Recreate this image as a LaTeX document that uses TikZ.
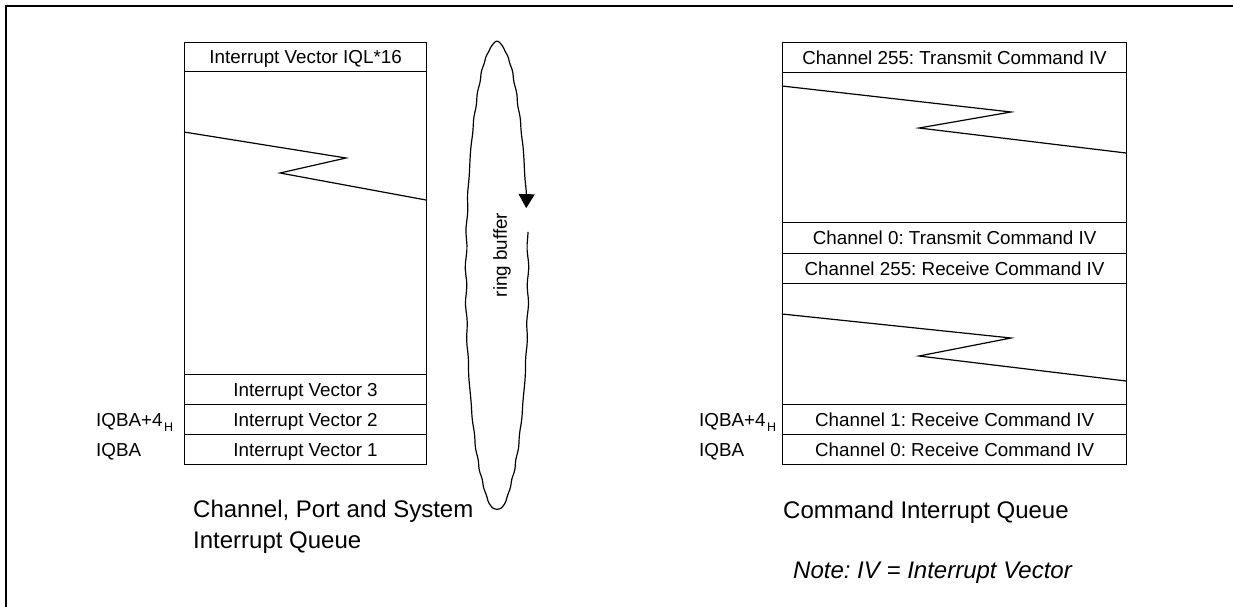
\documentclass[tikz,border=0pt]{standalone}
\usepackage{fontspec}
\setmainfont{Liberation Sans}
\usetikzlibrary{arrows.meta}
\newcommand{\boxfont}{\fontsize{18.8}{22}\selectfont}
\newcommand{\capfont}{\fontsize{24}{31}\selectfont}
\newcommand{\subH}{\hspace{1.5pt}\raisebox{-5pt}{\fontsize{12.5}{13}\selectfont H}}
\frenchspacing
\begin{document}
\begin{tikzpicture}[x=1pt,y=-1pt,
  lw/.style={line width=1.2pt},
  cell/.style={draw, lw, inner sep=0pt, text height=13.6pt, text depth=0pt, font=\boxfont, anchor=north west},
  lcell/.style={cell, minimum width=242pt},
  rcell/.style={cell, minimum width=344pt},
  addr/.style={font=\boxfont, anchor=base west, inner sep=0pt},
  caption/.style={font=\capfont, anchor=base west, inner sep=0pt, align=left},
]
\useasboundingbox (0,0) rectangle (1233,607);
% outer frame
\draw[lw] (6,607) -- (6,6) -- (1233,6);

% left queue
\node[lcell, minimum height=29pt] (lhead) at (184,42) {Interrupt Vector IQL*16};
\node[lcell, minimum height=303pt] (lblank) at (184,71) {};
\node[lcell, minimum height=30pt] (liv3) at (184,374) {Interrupt Vector 3};
\node[lcell, minimum height=30pt] (liv2) at (184,404) {Interrupt Vector 2};
\node[lcell, minimum height=30pt] (liv1) at (184,434) {Interrupt Vector 1};
\draw[lw] (184,132) -- (346,158) -- (280,173) -- (426,200);
\node[addr] (laddr2) at (96,426.5) {IQBA+4\subH};
\node[addr] (laddr1) at (96,456.5) {IQBA};
\node[caption] (lcap) at (193,548) {Channel, Port and System\\Interrupt Queue};

% ring buffer
\draw[lw, {Triangle[width=16pt,length=14pt]}-]
  plot[domain=-343.1:10.83, samples=240, variable=\t]
  ({497 + (31 + 0.5*sin(37*\t) + 0.3*sin(43*\t))*cos(\t)}, {276 - (234 + 0.8*sin(13*\t))*sin(\t)});
\node[font=\boxfont, rotate=90, inner sep=0pt] (ring) at (502,255) {ring buffer};

% right queue
\node[rcell, minimum height=30pt] (rhead) at (782,42) {Channel 255: Transmit Command IV};
\node[rcell, minimum height=150pt] (rblank1) at (782,72) {};
\node[rcell, minimum height=31pt] (rt0) at (782,222) {Channel 0: Transmit Command IV};
\node[rcell, minimum height=30pt] (rr255) at (782,253) {Channel 255: Receive Command IV};
\node[rcell, minimum height=121pt] (rblank2) at (782,283) {};
\node[rcell, minimum height=30pt] (rr1) at (782,404) {Channel 1: Receive Command IV};
\node[rcell, minimum height=30pt] (rr0) at (782,434) {Channel 0: Receive Command IV};
\draw[lw] (782,86) -- (1011,112) -- (919,128) -- (1126,153);
\draw[lw] (782,314) -- (1011,338) -- (919,356) -- (1126,381);
\node[addr] (raddr2) at (699,426.5) {IQBA+4\subH};
\node[addr] (raddr1) at (699,456.5) {IQBA};
\node[caption] (rcap) at (783,518) {Command Interrupt Queue};
\node[caption, font=\capfont\itshape] (note) at (793,578) {Note: IV = Interrupt Vector};
\end{tikzpicture}
\end{document}
